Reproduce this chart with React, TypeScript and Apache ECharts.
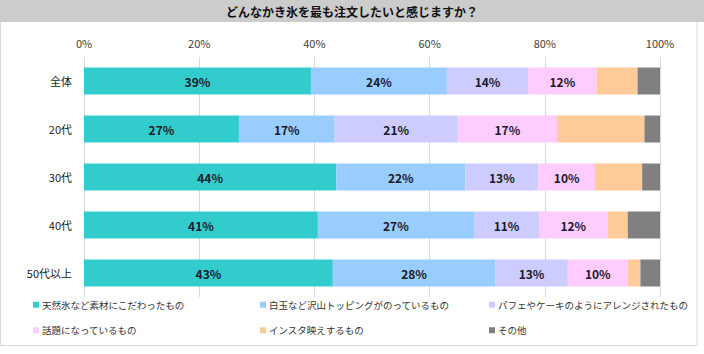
import React, { useEffect, useRef } from "react";
import * as echarts from "echarts";

const TITLE = "どんなかき氷を最も注文したいと感じますか？";
const categories = ["全体", "20代", "30代", "40代", "50代以上"];
const seriesNames = [
  "天然氷など素材にこだわったもの",
  "白玉など沢山トッピングがのっているもの",
  "パフェやケーキのようにアレンジされたもの",
  "話題になっているもの",
  "インスタ映えするもの",
  "その他",
];
const natural = [39.4, 26.9, 43.8, 40.6, 43.2];
const topping = [23.6, 16.6, 22.4, 27.1, 28.2];
const arrange = [14.1, 21.4, 12.7, 11.3, 12.6];
const trending = [11.9, 17.2, 9.8, 11.9, 10.4];
const insta = [7.1, 15.2, 8.2, 3.5, 2.2];
const other = [3.9, 2.7, 3.2, 5.6, 3.5];
const seriesValues = [natural, topping, arrange, trending, insta, other];
const colors = ["#33CCCC", "#99CCFF", "#CCCCFF", "#FFCCFF", "#FFCC99", "#808080"];
const labeled = [true, true, true, true, false, false];
const xTicks = [0, 20, 40, 60, 80, 100];

export default function App() {
  const ref = useRef<HTMLDivElement>(null);
  useEffect(() => {
    document.body.style.margin = "0";
    if (!ref.current) return;
    const chart = echarts.init(ref.current, null, { renderer: "svg" });
    const font = "'Noto Sans CJK JP', 'Noto Sans', sans-serif";
    const legendCol = (items: number[], left: number) => ({
      show: true,
      orient: "vertical",
      left,
      top: 295,
      itemWidth: 6,
      itemHeight: 6,
      itemGap: 16,
      icon: "rect",
      data: items.map((i) => seriesNames[i]),
      textStyle: { fontSize: 9.5, color: "#333", fontFamily: font, padding: [0, 0, 0, -2] },
      selectedMode: false,
    });
    chart.setOption({
      animation: false,
      textStyle: { fontFamily: font },
      graphic: [
        { type: "rect", shape: { x: 0.5, y: 0.5, width: 696.5, height: 345 }, style: { fill: "#fff", stroke: "#d9d9d9", lineWidth: 1 }, z: -10 },
        { type: "rect", shape: { x: 0, y: 0, width: 704, height: 22 }, style: { fill: "#cccccc" }, z: -5 },
        {
          type: "text",
          x: 352,
          y: 11,
          style: { text: TITLE, fontSize: 12, fontWeight: "bold", fill: "#111", align: "center", verticalAlign: "middle", fontFamily: font },
        },
      ],
      legend: [legendCol([0, 3], 28), legendCol([1, 4], 255), legendCol([2, 5], 484)],
      grid: { left: 84, right: 44, top: 57, height: 240 },
      xAxis: {
        type: "value",
        position: "top",
        min: 0,
        max: 100,
        interval: 20,
        axisLine: { show: false },
        axisTick: { show: false },
        splitLine: { show: true, lineStyle: { color: "#d9d9d9", width: 1 } },
        axisLabel: {
          margin: 9,
          fontSize: 11,
          color: "#404040",
          formatter: (v: number) => (xTicks.includes(v) ? `${v}%` : ""),
        },
      },
      yAxis: {
        type: "category",
        data: categories,
        inverse: true,
        axisLine: { show: false },
        axisTick: { show: false },
        axisLabel: { margin: 12, fontSize: 11, color: "#222" },
      },
      series: seriesValues.map((vals, i) => ({
        name: seriesNames[i],
        type: "bar",
        stack: "total",
        barWidth: 27,
        data: vals,
        itemStyle: { color: colors[i] },
        label: {
          show: labeled[i],
          position: "inside",
          fontSize: 12,
          fontWeight: "bold",
          color: "#1a1a2a",
          formatter: (p: any) => `${Math.round(p.value)}%`,
        },
      })),
    });
    return () => chart.dispose();
  }, []);
  return <div ref={ref} style={{ width: 704, height: 354 }} />;
}
